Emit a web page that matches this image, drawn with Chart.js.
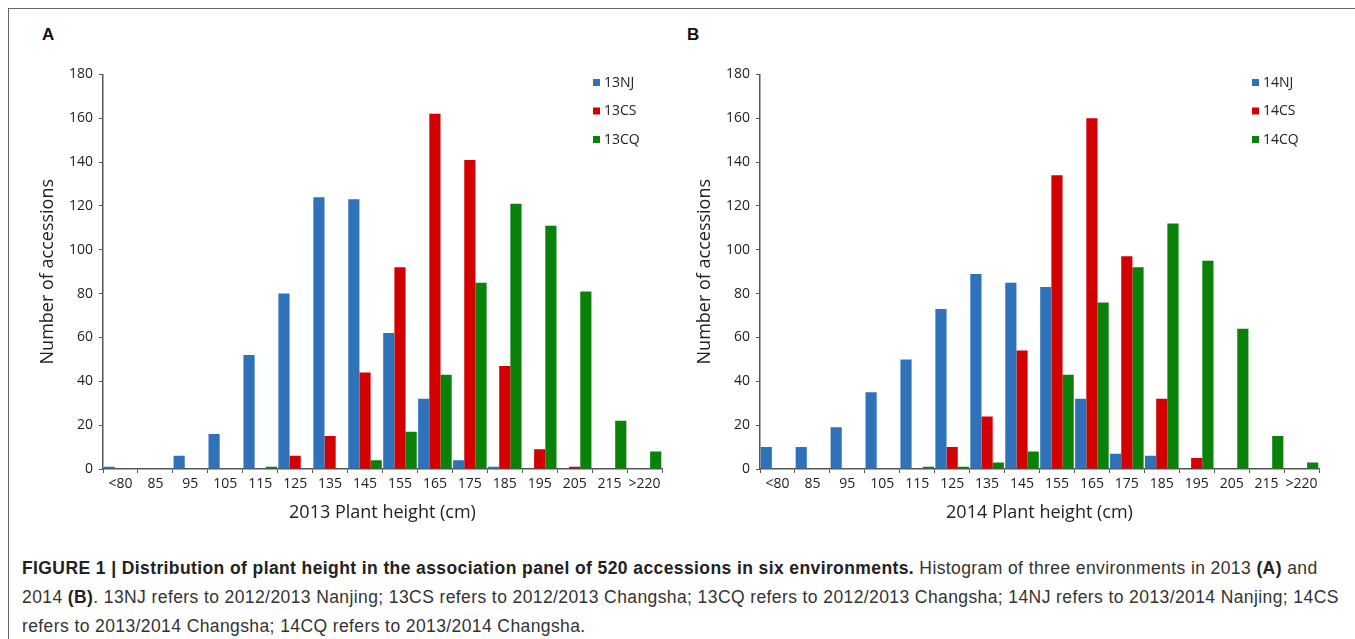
<!DOCTYPE html>
<html lang="en">
<head>
    <meta charset="UTF-8">
    <title>Plant height distribution</title>
    <script src="https://cdn.jsdelivr.net/npm/chart.js"></script>
    <style>
        body {
            margin: 0;
            background: #fff;
            width: 1355px;
            height: 639px;
            overflow: hidden;
            position: relative;
            font-family: "Open Sans", sans-serif;
        }
        .frame {
            position: absolute;
            left: 8px;
            top: 8px;
            width: 1400px;
            height: 700px;
            border-top: 1.5px solid #666;
            border-left: 1.5px solid #666;
        }
        .panel-letter {
            position: absolute;
            font: bold 17px "Liberation Sans", Arial, sans-serif;
            color: #111;
        }
        .box {
            position: absolute;
            top: 60px;
            width: 640px;
            height: 464px;
        }
        .caption {
            position: absolute;
            left: 22px;
            top: 554px;
            width: 1340px;
            white-space: nowrap;
            font: 17.5px "Liberation Sans", Arial, sans-serif;
            letter-spacing: 0.4px;
            line-height: 29px;
            color: #333;
        }
        .caption b { color: #222; }
    </style>
</head>
<body>
<div class="frame"></div>
<div class="panel-letter" style="left:42px; top:25px;">A</div>
<div class="panel-letter" style="left:687px; top:25px;">B</div>
<div class="box" style="left:30px;"><canvas id="chartA"></canvas></div>
<div class="box" style="left:687px;"><canvas id="chartB"></canvas></div>
<div class="caption">
    <b>FIGURE 1 | Distribution of plant height in the association panel of 520 accessions in six environments.</b> Histogram of three environments in 2013 <b>(A)</b> and<br>
    2014 <b>(B)</b>. 13NJ refers to 2012/2013 Nanjing; 13CS refers to 2012/2013 Changsha; 13CQ refers to 2012/2013 Changsha; 14NJ refers to 2013/2014 Nanjing; 14CS<br>
    refers to 2013/2014 Changsha; 14CQ refers to 2013/2014 Changsha.
</div>
<script>
    // height classes (cm)
    const heightBins = ['<80', '85', '95', '105', '115', '125', '135', '145', '155', '165', '175', '185', '195', '205', '215', '>220'];

    // 2013 environments
    const nj13 = [1, 0, 6, 16, 52, 80, 124, 123, 62, 32, 4, 1, 0, 0, 0, 0];
    const cs13 = [0, 0, 0, 0, 0, 6, 15, 44, 92, 162, 141, 47, 9, 1, 0, 0];
    const cq13 = [0, 0, 0, 0, 1, 0, 0, 4, 17, 43, 85, 121, 111, 81, 22, 8];

    // 2014 environments
    const nj14 = [10, 10, 19, 35, 50, 73, 89, 85, 83, 32, 7, 6, 0, 0, 0, 0];
    const cs14 = [0, 0, 0, 0, 0, 10, 24, 54, 134, 160, 97, 32, 5, 0, 0, 0];
    const cq14 = [0, 0, 0, 0, 1, 1, 3, 8, 43, 76, 92, 112, 95, 64, 15, 3];

    const yTicks = { min: 0, max: 180, step: 20 };
    const colors = ['#2f72ba', '#d20000', '#0a820a'];
    const tickFont = { family: 'Open Sans', size: 14 };

    // small legend drawn inside the plot, top right
    const cornerLegend = {
        id: 'cornerLegend',
        afterDraw(chart, args, opts) {
            const ctx = chart.ctx;
            ctx.save();
            ctx.font = '14px "Open Sans"';
            ctx.textBaseline = 'middle';
            chart.data.datasets.forEach((ds, i) => {
                let y = opts.y + i * 28.5;
                ctx.fillStyle = ds.backgroundColor;
                ctx.fillRect(opts.x, y - 4, 7, 7);
                ctx.fillStyle = '#222';
                ctx.fillText(ds.label, opts.x + 11, y);
            });
            ctx.restore();
        }
    };

    function makeChart(id, labels, series, names, xTitle, legendX) {
        let ctx = document.getElementById(id).getContext('2d');
        return new Chart(ctx, {
            type: 'bar',
            data: {
                labels: labels,
                datasets: series.map((s, i) => ({
                    label: names[i],
                    data: s,
                    backgroundColor: colors[i],
                    categoryPercentage: 0.96,
                    barPercentage: 1.0
                }))
            },
            options: {
                responsive: true,
                maintainAspectRatio: false,
                animation: false,
                layout: { padding: { top: 10, right: 8, left: 0, bottom: 0 } },
                plugins: {
                    legend: { display: false },
                    tooltip: { enabled: false },
                    cornerLegend: { x: legendX, y: 23 }
                },
                scales: {
                    x: {
                        grid: { offset: true, drawOnChartArea: false, tickLength: 4, color: '#555' },
                        border: { color: '#555', width: 1.5 },
                        ticks: { color: '#222', font: tickFont, padding: 3, maxRotation: 0, autoSkip: false },
                        title: { display: true, text: xTitle, color: '#222', font: { family: 'Open Sans', size: 18 }, padding: 0 },
                        afterFit(scale) { scale.height = 55; }
                    },
                    y: {
                        min: yTicks.min,
                        max: yTicks.max,
                        grid: { drawOnChartArea: false, tickLength: 4, color: '#555' },
                        border: { color: '#555', width: 1.5 },
                        ticks: { stepSize: yTicks.step, color: '#222', font: tickFont, padding: 6 },
                        title: { display: true, text: 'Number of accessions', color: '#222', font: { family: 'Open Sans', size: 18 }, padding: { top: 7, bottom: 0 } },
                        afterFit(scale) { scale.width = 73; }
                    }
                }
            },
            plugins: [cornerLegend]
        });
    }

    makeChart('chartA', heightBins, [nj13, cs13, cq13], ['13NJ', '13CS', '13CQ'], '2013 Plant height (cm)', 563);
    makeChart('chartB', heightBins, [nj14, cs14, cq14], ['14NJ', '14CS', '14CQ'], '2014 Plant height (cm)', 565);
</script>
</body>
</html>
